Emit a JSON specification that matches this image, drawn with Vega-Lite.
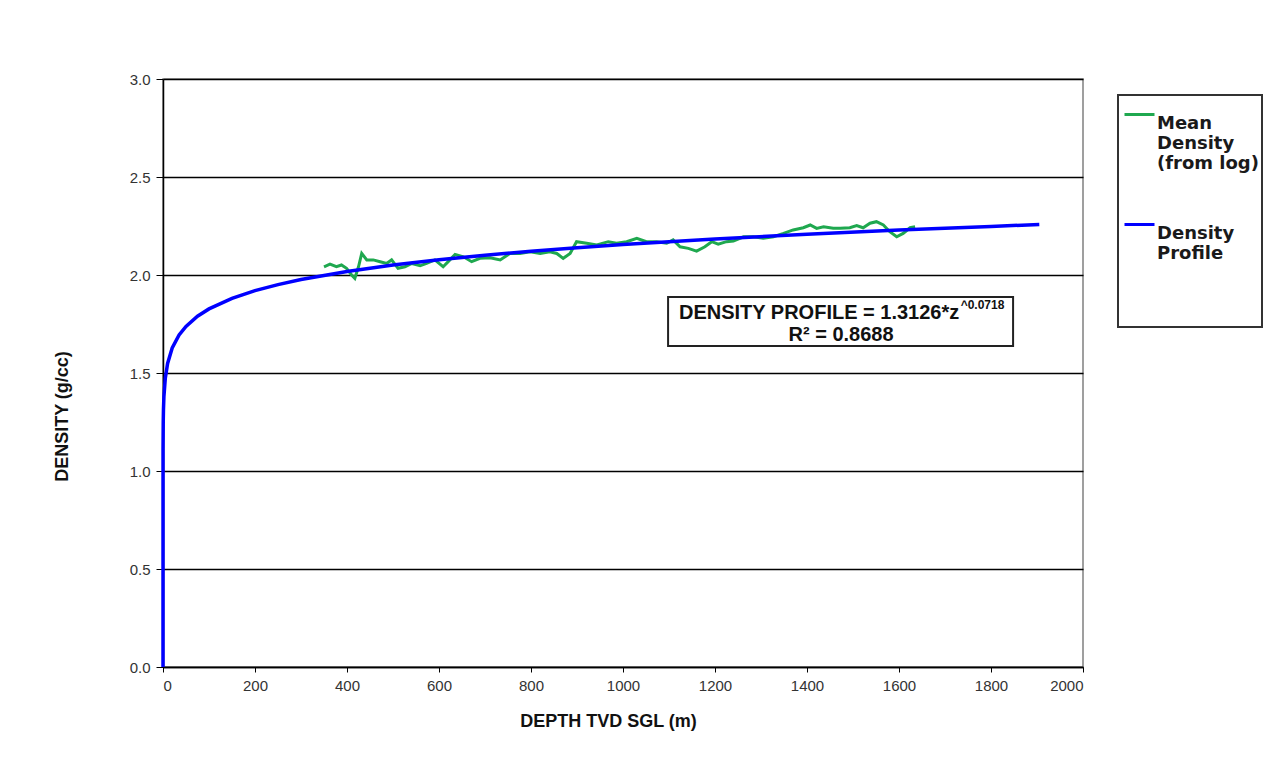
{
  "$schema": "https://vega.github.io/schema/vega-lite/v6.json",
  "width": 920,
  "height": 588,
  "autosize": {"type": "none"},
  "padding": {"left": 163, "top": 79, "right": 202, "bottom": 100},
  "background": "white",
  "config": {
    "view": {"stroke": "#808080", "strokeWidth": 1.5},
    "legend": {"strokeWidth": 2}
  },
  "datasets": {
    "log": [
      {"z": 350, "d": 2.042, "series": "Mean Density (from log)"},
      {"z": 363, "d": 2.055, "series": "Mean Density (from log)"},
      {"z": 377, "d": 2.042, "series": "Mean Density (from log)"},
      {"z": 388, "d": 2.051, "series": "Mean Density (from log)"},
      {"z": 399, "d": 2.034, "series": "Mean Density (from log)"},
      {"z": 410, "d": 2.0, "series": "Mean Density (from log)"},
      {"z": 417, "d": 1.983, "series": "Mean Density (from log)"},
      {"z": 425, "d": 2.042, "series": "Mean Density (from log)"},
      {"z": 432, "d": 2.11, "series": "Mean Density (from log)"},
      {"z": 443, "d": 2.077, "series": "Mean Density (from log)"},
      {"z": 457, "d": 2.077, "series": "Mean Density (from log)"},
      {"z": 472, "d": 2.068, "series": "Mean Density (from log)"},
      {"z": 486, "d": 2.059, "series": "Mean Density (from log)"},
      {"z": 497, "d": 2.077, "series": "Mean Density (from log)"},
      {"z": 511, "d": 2.034, "series": "Mean Density (from log)"},
      {"z": 526, "d": 2.042, "series": "Mean Density (from log)"},
      {"z": 541, "d": 2.059, "series": "Mean Density (from log)"},
      {"z": 559, "d": 2.047, "series": "Mean Density (from log)"},
      {"z": 573, "d": 2.059, "series": "Mean Density (from log)"},
      {"z": 591, "d": 2.077, "series": "Mean Density (from log)"},
      {"z": 609, "d": 2.042, "series": "Mean Density (from log)"},
      {"z": 620, "d": 2.068, "series": "Mean Density (from log)"},
      {"z": 635, "d": 2.105, "series": "Mean Density (from log)"},
      {"z": 653, "d": 2.093, "series": "Mean Density (from log)"},
      {"z": 671, "d": 2.068, "series": "Mean Density (from log)"},
      {"z": 689, "d": 2.085, "series": "Mean Density (from log)"},
      {"z": 711, "d": 2.088, "series": "Mean Density (from log)"},
      {"z": 733, "d": 2.077, "series": "Mean Density (from log)"},
      {"z": 754, "d": 2.11, "series": "Mean Density (from log)"},
      {"z": 776, "d": 2.11, "series": "Mean Density (from log)"},
      {"z": 798, "d": 2.119, "series": "Mean Density (from log)"},
      {"z": 820, "d": 2.11, "series": "Mean Density (from log)"},
      {"z": 841, "d": 2.119, "series": "Mean Density (from log)"},
      {"z": 856, "d": 2.11, "series": "Mean Density (from log)"},
      {"z": 870, "d": 2.085, "series": "Mean Density (from log)"},
      {"z": 885, "d": 2.11, "series": "Mean Density (from log)"},
      {"z": 899, "d": 2.17, "series": "Mean Density (from log)"},
      {"z": 921, "d": 2.162, "series": "Mean Density (from log)"},
      {"z": 943, "d": 2.153, "series": "Mean Density (from log)"},
      {"z": 968, "d": 2.17, "series": "Mean Density (from log)"},
      {"z": 986, "d": 2.162, "series": "Mean Density (from log)"},
      {"z": 1008, "d": 2.17, "series": "Mean Density (from log)"},
      {"z": 1030, "d": 2.187, "series": "Mean Density (from log)"},
      {"z": 1051, "d": 2.17, "series": "Mean Density (from log)"},
      {"z": 1073, "d": 2.17, "series": "Mean Density (from log)"},
      {"z": 1095, "d": 2.162, "series": "Mean Density (from log)"},
      {"z": 1109, "d": 2.179, "series": "Mean Density (from log)"},
      {"z": 1124, "d": 2.144, "series": "Mean Density (from log)"},
      {"z": 1142, "d": 2.136, "series": "Mean Density (from log)"},
      {"z": 1160, "d": 2.122, "series": "Mean Density (from log)"},
      {"z": 1178, "d": 2.144, "series": "Mean Density (from log)"},
      {"z": 1193, "d": 2.17, "series": "Mean Density (from log)"},
      {"z": 1207, "d": 2.157, "series": "Mean Density (from log)"},
      {"z": 1225, "d": 2.17, "series": "Mean Density (from log)"},
      {"z": 1240, "d": 2.173, "series": "Mean Density (from log)"},
      {"z": 1262, "d": 2.195, "series": "Mean Density (from log)"},
      {"z": 1283, "d": 2.195, "series": "Mean Density (from log)"},
      {"z": 1305, "d": 2.187, "series": "Mean Density (from log)"},
      {"z": 1327, "d": 2.195, "series": "Mean Density (from log)"},
      {"z": 1349, "d": 2.212, "series": "Mean Density (from log)"},
      {"z": 1370, "d": 2.23, "series": "Mean Density (from log)"},
      {"z": 1392, "d": 2.241, "series": "Mean Density (from log)"},
      {"z": 1407, "d": 2.255, "series": "Mean Density (from log)"},
      {"z": 1421, "d": 2.238, "series": "Mean Density (from log)"},
      {"z": 1436, "d": 2.246, "series": "Mean Density (from log)"},
      {"z": 1457, "d": 2.238, "series": "Mean Density (from log)"},
      {"z": 1472, "d": 2.238, "series": "Mean Density (from log)"},
      {"z": 1493, "d": 2.241, "series": "Mean Density (from log)"},
      {"z": 1508, "d": 2.252, "series": "Mean Density (from log)"},
      {"z": 1522, "d": 2.241, "series": "Mean Density (from log)"},
      {"z": 1537, "d": 2.264, "series": "Mean Density (from log)"},
      {"z": 1551, "d": 2.272, "series": "Mean Density (from log)"},
      {"z": 1566, "d": 2.255, "series": "Mean Density (from log)"},
      {"z": 1580, "d": 2.221, "series": "Mean Density (from log)"},
      {"z": 1595, "d": 2.195, "series": "Mean Density (from log)"},
      {"z": 1609, "d": 2.212, "series": "Mean Density (from log)"},
      {"z": 1624, "d": 2.241, "series": "Mean Density (from log)"},
      {"z": 1635, "d": 2.246, "series": "Mean Density (from log)"}
    ],
    "profile": [
      {"z": 0, "d": 0, "series": "Density Profile"},
      {"z": 0.1, "d": 1.113, "series": "Density Profile"},
      {"z": 0.5, "d": 1.249, "series": "Density Profile"},
      {"z": 1, "d": 1.313, "series": "Density Profile"},
      {"z": 2, "d": 1.380, "series": "Density Profile"},
      {"z": 5, "d": 1.473, "series": "Density Profile"},
      {"z": 10, "d": 1.549, "series": "Density Profile"},
      {"z": 20, "d": 1.628, "series": "Density Profile"},
      {"z": 35, "d": 1.694, "series": "Density Profile"},
      {"z": 50, "d": 1.738, "series": "Density Profile"},
      {"z": 75, "d": 1.790, "series": "Density Profile"},
      {"z": 100, "d": 1.827, "series": "Density Profile"},
      {"z": 150, "d": 1.881, "series": "Density Profile"},
      {"z": 200, "d": 1.920, "series": "Density Profile"},
      {"z": 250, "d": 1.951, "series": "Density Profile"},
      {"z": 300, "d": 1.977, "series": "Density Profile"},
      {"z": 400, "d": 2.018, "series": "Density Profile"},
      {"z": 500, "d": 2.051, "series": "Density Profile"},
      {"z": 600, "d": 2.078, "series": "Density Profile"},
      {"z": 700, "d": 2.101, "series": "Density Profile"},
      {"z": 800, "d": 2.121, "series": "Density Profile"},
      {"z": 900, "d": 2.139, "series": "Density Profile"},
      {"z": 1000, "d": 2.155, "series": "Density Profile"},
      {"z": 1200, "d": 2.184, "series": "Density Profile"},
      {"z": 1400, "d": 2.208, "series": "Density Profile"},
      {"z": 1600, "d": 2.229, "series": "Density Profile"},
      {"z": 1800, "d": 2.248, "series": "Density Profile"},
      {"z": 1905, "d": 2.258, "series": "Density Profile"}
    ]
  },
  "layer": [
    {
      "data": {"name": "log"},
      "mark": {"type": "line", "strokeWidth": 3},
      "encoding": {
        "x": {
          "field": "z", "type": "quantitative",
          "scale": {"domain": [0, 2000], "nice": false, "zero": false},
          "axis": {
            "title": "DEPTH TVD SGL (m)",
            "values": [0, 200, 400, 600, 800, 1000, 1200, 1400, 1600, 1800, 2000],
            "format": "d",
            "grid": false,
            "domainColor": "black", "domainWidth": 1.5,
            "tickColor": "black", "tickSize": 5,
            "labelFont": "Liberation Sans", "labelFontSize": 15, "labelColor": "#333", "labelPadding": 6,
            "titleFont": "Liberation Sans", "titleFontSize": 18, "titleFontWeight": "bold", "titleColor": "#111",
            "titleX": 445, "titleAlign": "center", "titlePadding": 19
          }
        },
        "y": {
          "field": "d", "type": "quantitative",
          "scale": {"domain": [0, 3], "nice": false},
          "axis": {
            "title": "DENSITY (g/cc)",
            "values": [0, 0.5, 1, 1.5, 2, 2.5, 3],
            "format": ".1f",
            "grid": true, "gridColor": "black", "gridWidth": 1.3, "gridOpacity": 1,
            "domainColor": "black", "domainWidth": 1.5,
            "tickColor": "black", "tickSize": 7,
            "labelFont": "Liberation Sans", "labelFontSize": 15, "labelColor": "#333", "labelPadding": 6,
            "titleFont": "Liberation Sans", "titleFontSize": 18, "titleFontWeight": "bold", "titleColor": "#111",
            "titleX": -101, "titleY": 337, "titleAngle": 270, "titleAlign": "center", "titleBaseline": "middle"
          }
        },
        "color": {
          "field": "series", "type": "nominal",
          "scale": {"domain": ["Mean Density (from log)", "Density Profile"], "range": ["#1fa84f", "#0000ff"]},
          "legend": {
            "orient": "none", "legendX": 955, "legendY": 16,
            "title": " ", "titleOrient": "bottom", "titlePadding": 53, "titleFontSize": 8,
            "strokeColor": "#333", "fillColor": "white", "padding": 3,
            "symbolType": "stroke", "symbolStrokeWidth": 3, "symbolSize": 900, "symbolOffset": 2,
            "labelFont": "DejaVu Sans", "labelFontWeight": "bold", "labelFontSize": 18, "labelColor": "#1a1a1a",
            "labelBaseline": "top", "labelOffset": 1, "labelLimit": 300,
            "rowPadding": 35,
            "labelExpr": "datum.label == 'Density Profile' ? ['Density', 'Profile'] : ['Mean', 'Density', '(from log)']"
          }
        }
      }
    },
    {
      "data": {"name": "profile"},
      "mark": {"type": "line", "strokeWidth": 3.5},
      "encoding": {
        "x": {"field": "z", "type": "quantitative"},
        "y": {"field": "d", "type": "quantitative"},
        "color": {"field": "series", "type": "nominal"}
      }
    },
    {
      "data": {"values": [{}]},
      "mark": {"type": "rect", "fill": "white", "stroke": "#222", "strokeWidth": 2},
      "encoding": {
        "x": {"datum": 1098}, "x2": {"datum": 1848},
        "y": {"datum": 1.638}, "y2": {"datum": 1.888}
      }
    },
    {
      "data": {"values": [{}]},
      "mark": {"type": "text", "font": "Liberation Sans", "fontWeight": "bold", "fontSize": 20, "align": "right", "baseline": "middle", "color": "#111"},
      "encoding": {
        "x": {"datum": 1731}, "y": {"datum": 1.806},
        "text": {"value": "DENSITY PROFILE = 1.3126*z"}
      }
    },
    {
      "data": {"values": [{}]},
      "mark": {"type": "text", "font": "Liberation Sans", "fontWeight": "bold", "fontSize": 12, "align": "left", "baseline": "middle", "color": "#111"},
      "encoding": {
        "x": {"datum": 1734}, "y": {"datum": 1.847},
        "text": {"value": "^0.0718"}
      }
    },
    {
      "data": {"values": [{}]},
      "mark": {"type": "text", "font": "Liberation Sans", "fontWeight": "bold", "fontSize": 20, "align": "center", "baseline": "middle", "color": "#111"},
      "encoding": {
        "x": {"datum": 1474}, "y": {"datum": 1.694},
        "text": {"value": "R² = 0.8688"}
      }
    }
  ]
}
